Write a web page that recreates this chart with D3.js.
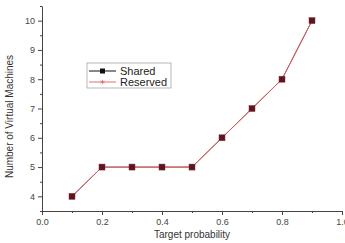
<!DOCTYPE html>
<html lang='en'>
<head>
  <meta charset='UTF-8'>
  <title>Virtual Machines vs Target probability</title>
  <style>
  body { margin: 0; background: white; }
  text { font-family: Arial, 'Liberation Sans', sans-serif; fill: #333; }
  .tick text { font-size: 9px; fill: #444; }
  .axis path, .axis line { stroke: #444; }
  .label { font-size: 10px; fill: #333; }
  .legend text { font-size: 11px; fill: #222; }
  </style>
  <script src='https://d3js.org/d3.v7.min.js'></script>
</head>
<body>
  <script>

  var probs = [0.1, 0.2, 0.3, 0.4, 0.5, 0.6, 0.7, 0.8, 0.9];
  var shared = [4, 5, 5, 5, 5, 6, 7, 8, 10];
  var reserved = [4, 5, 5, 5, 5, 6, 7, 8, 10];
  var xTicks = [0.0, 0.2, 0.4, 0.6, 0.8, 1.0];
  var yTicks = [4, 5, 6, 7, 8, 9, 10];

  var svgWidth = 345, svgHeight = 243;
  var margin = { top: 6, right: 3, bottom: 32, left: 42 };
  var width = svgWidth - margin.left - margin.right;
  var height = svgHeight - margin.top - margin.bottom;

  var svg = d3.select('body').append('svg')
    .attr('width', svgWidth).attr('height', svgHeight);

  var x = d3.scaleLinear().domain([0, 1]).range([0, width]);
  var y = d3.scaleLinear().domain([3.5, 10.5]).range([height, 0]);

  var g = svg.append('g').attr('transform', 'translate(' + margin.left + ',' + margin.top + ')');

  // minor ticks

  g.append('g')
    .attr('class', 'axis')
    .attr('transform', 'translate(0,' + height + ')')
    .call(d3.axisBottom(x).tickValues(d3.range(0.1, 1, 0.2)).tickSize(2).tickFormat(''))
    .select('.domain').remove();

  g.append('g')
    .attr('class', 'axis')
    .call(d3.axisLeft(y).tickValues(d3.range(3.5, 10.6, 1)).tickSize(2).tickFormat(''))
    .select('.domain').remove();

  // major axes

  g.append('g')
    .attr('class', 'axis')
    .attr('transform', 'translate(0,' + height + ')')
    .call(d3.axisBottom(x).tickValues(xTicks).tickSize(4).tickSizeOuter(0).tickPadding(4).tickFormat(d3.format('.1f')));

  g.append('g')
    .attr('class', 'axis')
    .call(d3.axisLeft(y).tickValues(yTicks).tickSize(4).tickSizeOuter(0).tickPadding(3).tickFormat(d3.format('d')));

  // series

  var line = d3.line()
    .x(function (d, i) { return x(probs[i]); })
    .y(function (d) { return y(d); });

  g.append('path')
    .datum(shared)
    .attr('fill', 'none')
    .attr('stroke', '#b34a4a')
    .attr('stroke-width', 1)
    .attr('d', line);

  g.append('path')
    .datum(reserved)
    .attr('fill', 'none')
    .attr('stroke', '#c86060')
    .attr('stroke-width', 1)
    .attr('d', line);

  g.selectAll('.pt')
    .data(shared)
    .enter()
    .append('rect')
    .attr('class', 'pt')
    .attr('x', function (d, i) { return x(probs[i]) - 3; })
    .attr('y', function (d) { return y(d) - 3; })
    .attr('width', 6)
    .attr('height', 6)
    .attr('fill', '#5c1420')
    .attr('stroke', '#8a3038')
    .attr('stroke-width', 0.5);

  // axis labels

  g.append('text')
    .attr('class', 'label')
    .attr('text-anchor', 'middle')
    .attr('x', width / 2)
    .attr('y', height + 27)
    .text('Target probability');

  g.append('text')
    .attr('class', 'label')
    .attr('text-anchor', 'middle')
    .attr('transform', 'translate(' + (-29) + ',' + (height / 2 + 8) + ') rotate(-90)')
    .text('Number of Virtual Machines');

  // legend

  var legend = svg.append('g').attr('class', 'legend').attr('transform', 'translate(87,63)');

  legend.append('rect')
    .attr('width', 84).attr('height', 25)
    .attr('fill', 'white').attr('stroke', '#999').attr('stroke-width', 0.7);

  var items = [
    { name: 'Shared', color: '#111', marker: 'square' },
    { name: 'Reserved', color: '#e07070', marker: 'star' }
  ];

  items.forEach(function (it, i) {
    var yy = 8 + i * 11;
    legend.append('line')
      .attr('x1', 2).attr('x2', 29).attr('y1', yy).attr('y2', yy)
      .attr('stroke', it.color).attr('stroke-width', 1);
    if (it.marker === 'square') {
      legend.append('rect')
        .attr('x', 13).attr('y', yy - 2.5).attr('width', 5).attr('height', 5)
        .attr('fill', it.color);
    } else {
      legend.append('path')
        .attr('transform', 'translate(15.5,' + yy + ')')
        .attr('d', d3.symbol().type(d3.symbolAsterisk).size(14))
        .attr('fill', 'none').attr('stroke', it.color).attr('stroke-width', 0.8);
    }
    legend.append('text')
      .attr('x', 33).attr('y', yy + 4)
      .text(it.name);
  });
  </script>
</body>
</html>
